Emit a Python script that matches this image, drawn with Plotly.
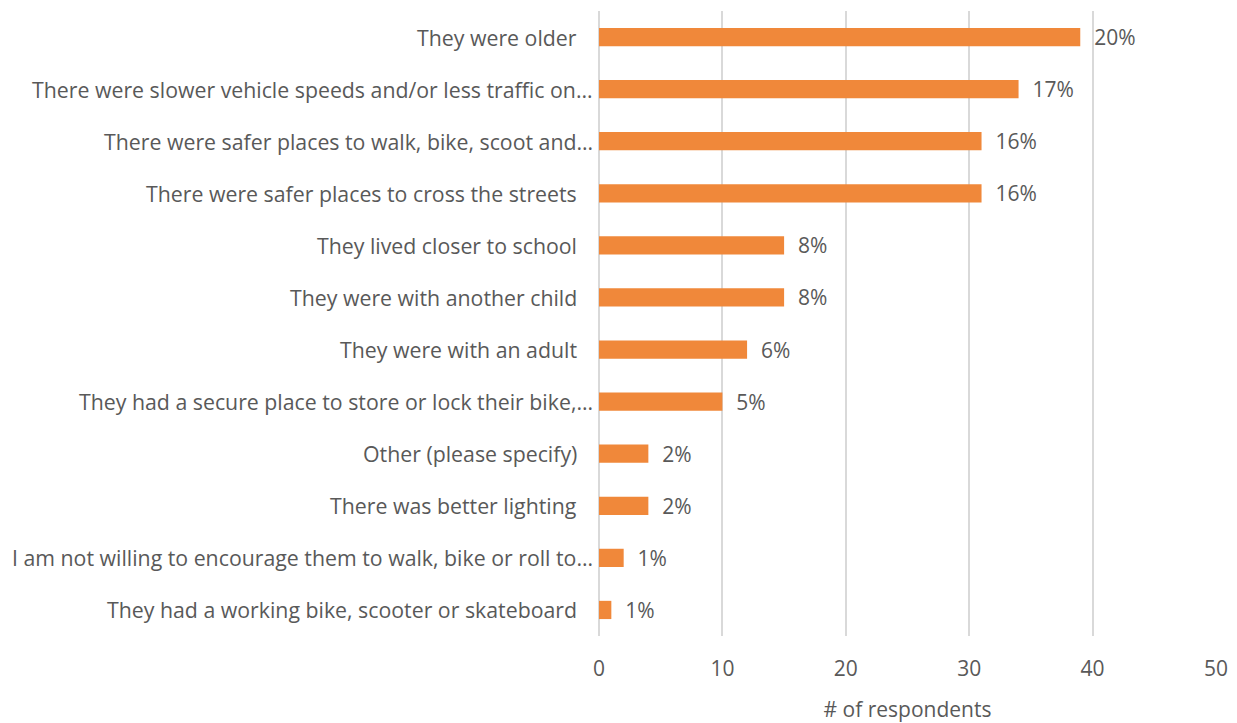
import plotly.graph_objects as go

categories = [
    "They were older",
    "There were slower vehicle speeds and/or less traffic on…",
    "There were safer places to walk, bike, scoot and…",
    "There were safer places to cross the streets",
    "They lived closer to school",
    "They were with another child",
    "They were with an adult",
    "They had a secure place to store or lock their bike,…",
    "Other (please specify)",
    "There was better lighting",
    "I am not willing to encourage them to walk, bike or roll to…",
    "They had a working bike, scooter or skateboard",
]
respondents = [39, 34, 31, 31, 15, 15, 12, 10, 4, 4, 2, 1]
pct_labels = ["20%", "17%", "16%", "16%", "8%", "8%", "6%", "5%", "2%", "2%", "1%", "1%"]
x_ticks = [0, 10, 20, 30, 40, 50]

FONT = "Open Sans"
GREY = "#595959"
FS = 21
FS_CAT = 21.3

fig = go.Figure(
    go.Bar(
        x=respondents,
        y=categories,
        orientation="h",
        marker=dict(color="#F0883A", line=dict(width=0)),
        width=0.35,
        text=pct_labels,
        texttemplate="  %{text}",
        textposition="outside",
        constraintext="none",
        cliponaxis=False,
        textfont=dict(family=FONT, size=FS, color=GREY),
    )
)

# Category labels (truncated labels sit closer to the axis, as in the original)
for cat in categories:
    fig.add_annotation(
        x=0, y=cat, xref="x", yref="y",
        text=cat, showarrow=False,
        xanchor="right", yanchor="middle",
        xshift=-4 if cat.endswith("…") else -20,
        font=dict(family=FONT, size=FS_CAT, color=GREY),
    )

fig.update_layout(
    width=1229,
    height=715,
    margin=dict(l=591, r=21, t=3, b=87),
    plot_bgcolor="white",
    paper_bgcolor="white",
    font=dict(family=FONT, size=FS, color=GREY),
    showlegend=False,
)
fig.update_xaxes(
    range=[0, 50],
    tickvals=x_ticks,
    automargin=False,
    showgrid=True,
    gridcolor="#D9D9D9",
    gridwidth=2,
    zeroline=True,
    zerolinecolor="#D9D9D9",
    zerolinewidth=2,
    showline=False,
    ticks="",
    ticklabelstandoff=18,
    tickfont=dict(family=FONT, size=FS, color=GREY),
    title=dict(text="# of respondents", font=dict(family=FONT, size=FS, color=GREY), standoff=22),
)
fig.update_yaxes(
    autorange="reversed",
    automargin=False,
    showgrid=False,
    showline=False,
    ticks="",
    showticklabels=False,
)

fig.write_html("out.html")
